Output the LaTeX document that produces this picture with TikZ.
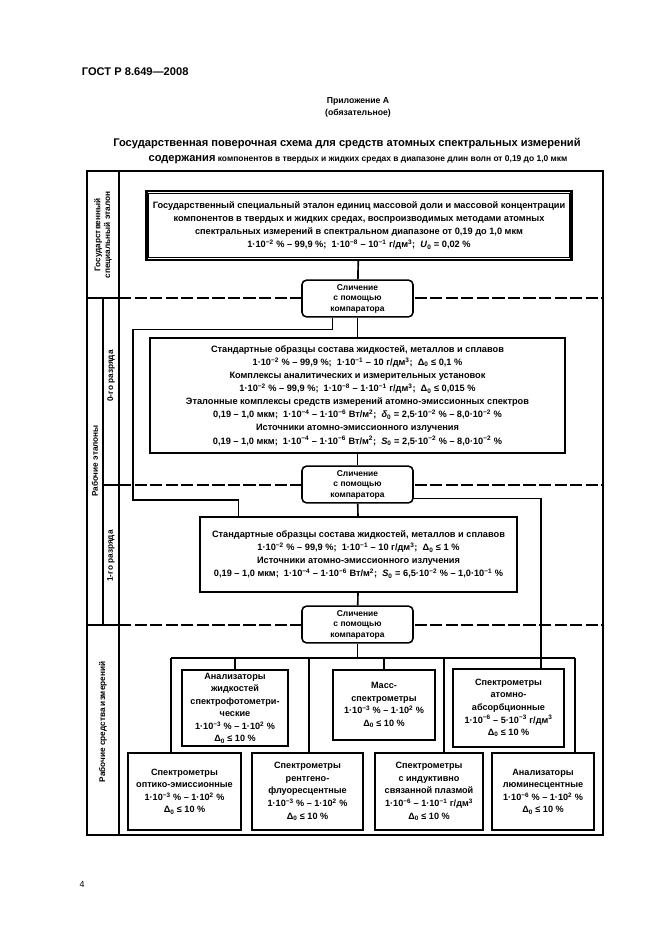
\documentclass[tikz,border=0pt]{standalone}
\usepackage{fontspec}
\setmainfont{Liberation Sans}
\newcommand{\pw}[1]{\textsuperscript{#1}}
\newcommand{\sub}[1]{\textsubscript{#1}}
\tikzset{
  txt/.style={font=\bfseries\fontsize{8.3}{11.8}\selectfont, align=center, inner sep=0pt},
  box/.style={txt, draw, line width=1.6pt, fill=white},
  sbox/.style={box, font=\bfseries\fontsize{8.2}{11.3}\selectfont, line width=2pt},
  cmp/.style={txt, font=\bfseries\fontsize{7.6}{9.4}\selectfont, draw, line width=1.4pt,
    rounded corners=4pt, fill=white, minimum width=99.9pt, minimum height=33pt},
  side/.style={font=\bfseries\fontsize{7.4}{8.6}\selectfont, align=center, rotate=90, inner sep=0pt},
  frame/.style={line width=1.5pt},
  sep/.style={line width=1.1pt, dash pattern=on 11pt off 3pt},
  link/.style={line width=1.5pt},
}
\begin{document}
\begin{tikzpicture}[x=0.9pt,y=-0.9pt]
\useasboundingbox (0,0) rectangle (661,936);
% page head
\node[anchor=west, font=\bfseries\fontsize{10}{12}\selectfont] (gost) at (78,72) {ГОСТ Р 8.649—2008};
\node[font=\bfseries\fontsize{7.8}{9}\selectfont] (annex) at (358,101) {Приложение А};
\node[font=\bfseries\fontsize{7.8}{9}\selectfont] (oblig) at (358,113) {(обязательное)};
\node[font=\bfseries\fontsize{10}{11}\selectfont] (title) at (347,144) {Государственная поверочная схема для средств атомных спектральных измерений};
\node[font=\bfseries\fontsize{7.6}{11}\selectfont] (subtitle) at (358,160) {{\fontsize{10}{11}\selectfont содержания} компонентов в твердых и жидких средах в диапазоне длин волн от 0,19 до 1,0 мкм};
\node[font=\fontsize{8}{10}\selectfont] (page) at (82,884) {4};
% frame and rows
\draw[frame] (87,171) rectangle (603,835);
\draw[frame] (119,171) -- (119,835);
\draw[frame] (103,298) -- (103,625);
\draw[frame] (87,298) -- (119,298);
\draw[frame] (103,485) -- (119,485);
\draw[frame] (87,625) -- (119,625);
\draw[sep] (119,298) -- (603,298);
\draw[sep] (119,485) -- (603,485);
\draw[sep] (119,625) -- (603,625);
\node[side] (lstate) at (103,235) {Государственный\\специальный эталон};
\node[side] (lwork) at (95,461) {Рабочие эталоны};
\node[side] (lzero) at (111,376) {0-го разряда};
\node[side] (lfirst) at (111,556) {1-го разряда};
\node[side] (lmeans) at (103,722) {Рабочие средства измерений};
% standards
\node[box, line width=2.2pt, minimum width=382.5pt, minimum height=62.1pt] (state) at (359,225.5)
  {Государственный специальный эталон единиц массовой доли и массовой концентрации\\
   компонентов в твердых и жидких средах, воспроизводимых методами атомных\\
   спектральных измерений в спектральном диапазоне от 0,19 до 1,0 мкм\\
   1·10\pw{−2} \% – 99,9 \%;\ \ 1·10\pw{−8} – 10\pw{−1} г/дм\pw{3};\ \ \textit{U}\sub{0} = 0,02 \%};
\draw[line width=0.7pt] ([shift={(3.5,3.5)}]state.north west) rectangle ([shift={(-3.5,-3.5)}]state.south east);
\node[cmp] (cmpA) at (357.5,298.5) {Сличение\\с помощью\\компаратора};
\node[box, minimum width=373.5pt, minimum height=103.5pt] (zero) at (357.5,395.5)
  {Стандартные образцы состава жидкостей, металлов и сплавов\\
   1·10\pw{−2} \% – 99,9 \%;\ \ 1·10\pw{−1} – 10 г/дм\pw{3};\ \ Δ\sub{0} ≤ 0,1 \%\\
   Комплексы аналитических и измерительных установок\\
   1·10\pw{−2} \% – 99,9 \%;\ \ 1·10\pw{−8} – 1·10\pw{−1} г/дм\pw{3};\ \ Δ\sub{0} ≤ 0,015 \%\\
   Эталонные комплексы средств измерений атомно-эмиссионных спектров\\
   0,19 – 1,0 мкм;\ \ 1·10\pw{−4} – 1·10\pw{−6} Вт/м\pw{2};\ \ \textit{δ}\sub{0} = 2,5·10\pw{−2} \% – 8,0·10\pw{−2} \%\\
   Источники атомно-эмиссионного излучения\\
   0,19 – 1,0 мкм;\ \ 1·10\pw{−4} – 1·10\pw{−6} Вт/м\pw{2};\ \ \textit{S}\sub{0} = 2,5·10\pw{−2} \% – 8,0·10\pw{−2} \%};
\node[cmp] (cmpB) at (357.5,484.5) {Сличение\\с помощью\\компаратора};
\node[box, minimum width=285.3pt, minimum height=67.5pt] (first) at (358.5,554.5)
  {Стандартные образцы состава жидкостей, металлов и сплавов\\
   1·10\pw{−2} \% – 99,9 \%;\ \ 1·10\pw{−1} – 10 г/дм\pw{3};\ \ Δ\sub{0} ≤ 1 \%\\
   Источники атомно-эмиссионного излучения\\
   0,19 – 1,0 мкм;\ \ 1·10\pw{−4} – 1·10\pw{−6} Вт/м\pw{2};\ \ \textit{S}\sub{0} = 6,5·10\pw{−2} \% – 1,0·10\pw{−1} \%};
\node[cmp] (cmpC) at (357.5,624.5) {Сличение\\с помощью\\компаратора};
% working instruments
\node[sbox, minimum width=95.4pt, minimum height=68.4pt] (photo) at (235,708)
  {Анализаторы\\жидкостей\\спектрофотометри-\\ческие\\1·10\pw{−3} \% – 1·10\pw{2} \%\\Δ\sub{0} ≤ 10 \%};
\node[sbox, minimum width=91.8pt, minimum height=63pt] (mass) at (384,705)
  {Масс-\\спектрометры\\1·10\pw{−3} \% – 1·10\pw{2} \%\\Δ\sub{0} ≤ 10 \%};
\node[sbox, minimum width=99.9pt, minimum height=70.2pt] (absorb) at (508.5,708)
  {Спектрометры\\атомно-\\абсорбционные\\1·10\pw{−6} – 5·10\pw{−3} г/дм\pw{3}\\Δ\sub{0} ≤ 10 \%};
\node[sbox, minimum width=101.7pt, minimum height=69.3pt] (optic) at (184.5,791.5)
  {Спектрометры\\оптико-эмиссионные\\1·10\pw{−3} \% – 1·10\pw{2} \%\\Δ\sub{0} ≤ 10 \%};
\node[sbox, minimum width=99.9pt, minimum height=69.3pt] (xray) at (307.5,791.5)
  {Спектрометры\\рентгено-\\флуоресцентные\\1·10\pw{−3} \% – 1·10\pw{2} \%\\Δ\sub{0} ≤ 10 \%};
\node[sbox, minimum width=97.2pt, minimum height=69.3pt] (plasma) at (429,791.5)
  {Спектрометры\\с индуктивно\\связанной плазмой\\1·10\pw{−6} – 1·10\pw{−1} г/дм\pw{3}\\Δ\sub{0} ≤ 10 \%};
\node[sbox, minimum width=91.8pt, minimum height=69.3pt] (lumin) at (543,791.5)
  {Анализаторы\\люминесцентные\\1·10\pw{−6} \% – 1·10\pw{2} \%\\Δ\sub{0} ≤ 10 \%};
% links
\draw[link] (state) -- (cmpA);
\draw[link] (cmpA) -- (zero);
\draw[link] (zero) -- (cmpB);
\draw[link] (cmpB) -- (first);
\draw[link] (first) -- (cmpC);
\coordinate (byA) at (133,500);
\draw[link] ([xshift=-22.5pt]cmpA.south) -- ++(0,12) -| (byA) -| ([xshift=-108pt]first.north);
\draw[link] ([yshift=4.5pt]cmpB.south east) -| ([xshift=29pt]absorb.north);
\coordinate (bus) at (357.5,658);
\coordinate (bOptic) at (171,658);
\coordinate (bXray) at (309,658);
\coordinate (bPlasma) at (444,658);
\coordinate (bLumin) at (575,658);
\draw[link] (cmpC) -- (bus);
\draw[link] (bOptic) -- (bLumin);
\draw[link] (photo.north) -- (photo.north |- bus);
\draw[link] (mass.north) -- (mass.north |- bus);
\draw[link] (bOptic) -- (bOptic |- optic.north);
\draw[link] (bXray) -- (bXray |- xray.north);
\draw[link] (bPlasma) -- (bPlasma |- plasma.north);
\draw[link] (bLumin) -- (bLumin |- lumin.north);
\end{tikzpicture}
\end{document}
